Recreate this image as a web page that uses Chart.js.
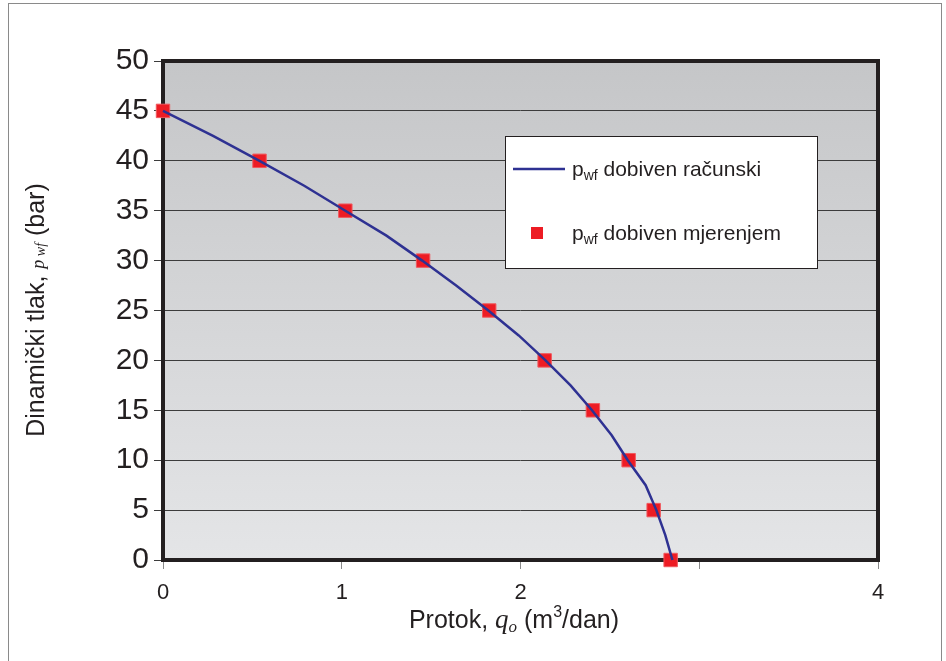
<!DOCTYPE html>
<html>
<head>
<meta charset="utf-8">
<script src="https://cdn.jsdelivr.net/npm/chart.js@4"></script>
<style>
  html, body { margin: 0; padding: 0; background: #fff; }
  #wrap { width: 946px; height: 661px; position: relative; }
</style>
</head>
<body>
<div id="wrap"><canvas id="ipr"></canvas></div>
<script>
// measured points
const measuredQ = [0, 0.54, 1.02, 1.455, 1.825, 2.135, 2.405, 2.605, 2.745, 2.84];
const measuredP = [45, 40, 35, 30, 25, 20, 15, 10, 5, 0];

// computed curve
const calcQ = [0, 0.28, 0.54, 0.79, 1.02, 1.25, 1.45, 1.64, 1.82, 1.99, 2.14, 2.28, 2.40, 2.51, 2.60, 2.70, 2.76, 2.81, 2.85];
const calcP = [45, 42.5, 40, 37.5, 35, 32.5, 30, 27.5, 25, 22.5, 20, 17.5, 15, 12.5, 10, 7.5, 5, 2.5, 0];

const xTickLabels = ['0', '1', '2', '', '4'];
const legendLabels = ['dobiven računski', 'dobiven mjerenjem'];

const SANS = "'Liberation Sans', Arial, sans-serif";
const SERIF = "'Liberation Serif', 'Times New Roman', serif";

const toPts = (xs, ys) => xs.map((x, i) => ({ x: x, y: ys[i] }));

// draw a row of differently styled pieces, centred on x or starting at x
function drawRuns(ctx, runs, x, y, center) {
  let total = 0;
  runs.forEach(r => { ctx.font = r.font; total += ctx.measureText(r.text).width; });
  let cur = center ? x - total / 2 : x;
  ctx.textAlign = 'left';
  ctx.textBaseline = 'alphabetic';
  runs.forEach(r => {
    ctx.font = r.font;
    ctx.fillText(r.text, cur, y + (r.dy || 0));
    cur += ctx.measureText(r.text).width;
  });
}

const decor = {
  id: 'decor',
  beforeDraw(chart) {
    const { ctx, chartArea: a } = chart;
    ctx.save();
    ctx.strokeStyle = '#8a8a8a';
    ctx.lineWidth = 1;
    ctx.strokeRect(8.5, 3.5, 933, 680);
    const g = ctx.createLinearGradient(0, a.top, 0, a.bottom);
    g.addColorStop(0, '#c5c6c8');
    g.addColorStop(1, '#e4e5e7');
    ctx.fillStyle = g;
    ctx.fillRect(a.left, a.top, a.right - a.left, a.bottom - a.top);
    ctx.restore();
  },
  beforeDatasetsDraw(chart) {
    const { ctx, chartArea: a } = chart;
    ctx.save();
    ctx.strokeStyle = '#231f20';
    ctx.lineWidth = 4;
    ctx.strokeRect(a.left, a.top, a.right - a.left, a.bottom - a.top);
    ctx.restore();
  },
  afterDraw(chart) {
    const { ctx } = chart;
    ctx.save();
    ctx.fillStyle = '#231f20';

    // x title
    drawRuns(ctx, [
      { text: 'Protok, ', font: '25px ' + SANS },
      { text: 'q', font: 'italic 27px ' + SERIF },
      { text: 'o', font: 'italic 17px ' + SERIF, dy: 4 },
      { text: ' (m', font: '25px ' + SANS },
      { text: '3', font: '16px ' + SANS, dy: -11 },
      { text: '/dan)', font: '25px ' + SANS }
    ], 514, 628, true);

    // y title
    ctx.save();
    ctx.translate(44, 310);
    ctx.rotate(-Math.PI / 2);
    drawRuns(ctx, [
      { text: 'Dinamički tlak, ', font: '25px ' + SANS },
      { text: 'p', font: 'italic 18px ' + SERIF },
      { text: ' wf', font: 'italic 14px ' + SERIF, dy: 1 },
      { text: ' (bar)', font: '25px ' + SANS }
    ], 0, 0, true);
    ctx.restore();

    // legend
    const lx = 505, ly = 136, lw = 312, lh = 132;
    ctx.fillStyle = '#ffffff';
    ctx.fillRect(lx, ly, lw, lh);
    ctx.strokeStyle = '#231f20';
    ctx.lineWidth = 1;
    ctx.strokeRect(lx + 0.5, ly + 0.5, lw, lh);

    ctx.strokeStyle = chart.data.datasets[0].borderColor;
    ctx.lineWidth = 2.5;
    ctx.beginPath();
    ctx.moveTo(513, 169);
    ctx.lineTo(565, 169);
    ctx.stroke();

    ctx.fillStyle = chart.data.datasets[1].backgroundColor;
    ctx.fillRect(531, 227, 12, 12);

    ctx.fillStyle = '#231f20';
    drawRuns(ctx, [
      { text: 'p', font: '21px ' + SANS },
      { text: 'wf', font: '14px ' + SANS, dy: 4 },
      { text: ' ' + legendLabels[0], font: '21px ' + SANS }
    ], 572, 176, false);
    drawRuns(ctx, [
      { text: 'p', font: '21px ' + SANS },
      { text: 'wf', font: '14px ' + SANS, dy: 4 },
      { text: ' ' + legendLabels[1], font: '21px ' + SANS }
    ], 572, 240, false);
    ctx.restore();
  }
};

new Chart(document.getElementById('ipr'), {
  type: 'scatter',
  data: {
    datasets: [
      {
        label: 'pwf dobiven računski',
        data: toPts(calcQ, calcP),
        showLine: true,
        borderColor: '#2e3192',
        borderWidth: 2.5,
        pointRadius: 0,
        tension: 0,
        clip: false
      },
      {
        label: 'pwf dobiven mjerenjem',
        data: toPts(measuredQ, measuredP),
        showLine: false,
        pointStyle: 'rect',
        pointRadius: 9.5,
        backgroundColor: '#ed1c24',
        borderColor: '#f0585d',
        borderWidth: 1,
        clip: false
      }
    ]
  },
  options: {
    responsive: true,
    maintainAspectRatio: false,
    animation: false,
    layout: { padding: { top: 61, right: 68, left: 0, bottom: 0 } },
    plugins: {
      legend: { display: false },
      tooltip: { enabled: false }
    },
    scales: {
      x: {
        type: 'linear',
        min: 0,
        max: 4,
        afterFit(scale) { scale.height = 101; },
        border: { display: false },
        grid: { drawOnChartArea: false, drawTicks: true, tickLength: 9, color: '#8a8a8a' },
        ticks: {
          stepSize: 1,
          padding: 11,
          color: '#231f20',
          font: { family: SANS, size: 22 },
          callback: (v, i) => xTickLabels[i]
        }
      },
      y: {
        min: 0,
        max: 50,
        afterFit(scale) { scale.width = 163; },
        border: { display: false },
        grid: { color: '#3c3c3c', lineWidth: 1, tickLength: 9 },
        ticks: {
          stepSize: 5,
          padding: 5,
          color: '#231f20',
          font: { family: SANS, size: 30 }
        }
      }
    }
  },
  plugins: [decor]
});
</script>
</body>
</html>
